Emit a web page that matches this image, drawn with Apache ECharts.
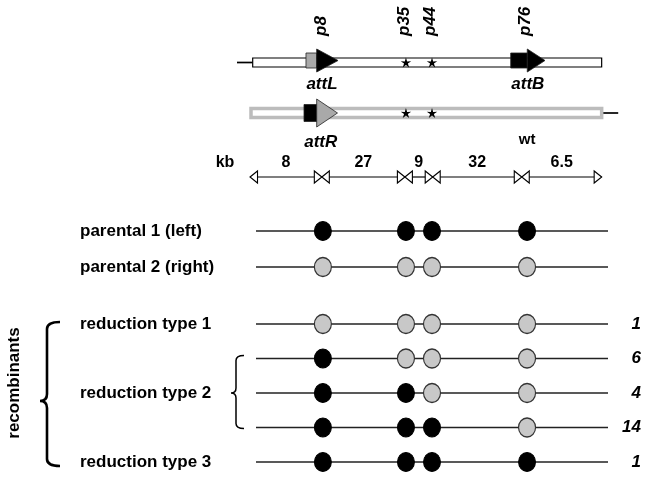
<!DOCTYPE html>
<html><head><meta charset="utf-8">
<script src="https://cdn.jsdelivr.net/npm/echarts@6/dist/echarts.min.js"></script>
<style>html,body{margin:0;padding:0;background:#fff}#c{width:647px;height:498px}</style>
</head><body><div id="c"></div>
<script>
// ---------------- data ----------------
// loci on the (schematic) map, in map units 0..100
const lociNames = ['p8', 'p35', 'p44', 'p76'];
const lociPos = [19.0, 42.6, 50.0, 77.0];

// kb distances between loci (scale bar)
const kbLabels = ['8', '27', '9', '32', '6.5'];
const kbBounds = [-1.7, 18.7, 42.3, 50.2, 75.5, 98.2];

// chromosome tracks (top panel)
const chromStart = [-0.94, -1.42];
const chromEnd = [98.2, 98.2];
const stubStart = [-5.4, 98.2];
const stubEnd = [-0.94, 102.9];
const chromNote = ['', 'wt'];

// att sites
const attNames = ['attL', 'attB', 'attR'];
const attTrack = [0, 0, 1];
const attShaftStart = [14.2, 72.36, 13.64];
const attShaftEnd = [17.24, 77.07, 17.24];
const attHeadEnd = [23.3, 82.1, 23.15];
const attShaftFill = ['#a9a9a9', '#000', '#000'];
const attHeadFill = ['#000', '#000', '#a9a9a9'];

// mutation marks (stars) at p35 / p44 on both tracks
const starLocus = [1, 2, 1, 2];
const starTrack = [0, 0, 1, 1];

// genotype rows
const parentalRows = ['parental 1 (left)', 'parental 2 (right)'];
const parentalGeno = [['L', 'L', 'L', 'L'], ['R', 'R', 'R', 'R']];

const recombRows = ['r1', 'r2a', 'r2b', 'r2c', 'r3'];
const recombLabels = ['reduction type 1', '', 'reduction type 2', '', 'reduction type 3'];
const recombGeno = [
  ['R', 'R', 'R', 'R'],
  ['L', 'R', 'R', 'R'],
  ['L', 'L', 'R', 'R'],
  ['L', 'L', 'L', 'R'],
  ['L', 'L', 'L', 'L']
];
const recombCounts = [1, 6, 4, 14, 1];

// ---------------- layout ----------------
const FONT = '"Liberation Sans", Arial, Helvetica, sans-serif';
const trackY = [62.5, 113];
const kbY = 177;
const MAP_MIN = 0, MAP_MAX = 100;

const chart = echarts.init(document.getElementById('c'));

function genoPoints(rows, geno, allele) {
  const out = [];
  rows.forEach((r, i) => geno[i].forEach((g, j) => { if (g === allele) out.push([lociPos[j], r]); }));
  return out;
}

const axisLabelBase = { color: '#000', fontFamily: FONT, fontWeight: 'bold', fontSize: 17, interval: 0 };
const hiddenCat = { axisLine: { show: false }, axisTick: { show: false }, splitLine: { show: false } };

function rowLineSeries(xi, yi, rows) {
  return {
    type: 'custom', xAxisIndex: xi, yAxisIndex: yi, silent: true, clip: false, z: 1,
    data: rows.map((r, i) => [i]),
    renderItem: (p, api) => {
      const i = api.value(0);
      const a = api.coord([MAP_MIN, i]), b = api.coord([MAP_MAX, i]);
      return { type: 'line', shape: { x1: a[0], y1: a[1], x2: b[0], y2: b[1] }, style: { stroke: '#222', lineWidth: 1.6 } };
    }
  };
}

function bracePath(xv, yT, yM, yB, w, d, r) {
  return `M ${xv + w} ${yT} Q ${xv} ${yT} ${xv} ${yT + r} L ${xv} ${yM - r} Q ${xv} ${yM} ${xv - d} ${yM} ` +
         `Q ${xv} ${yM} ${xv} ${yM + r} L ${xv} ${yB - r} Q ${xv} ${yB} ${xv + w} ${yB}`;
}

const series = [];

// chromosomes
series.push({
  type: 'custom', xAxisIndex: 0, yAxisIndex: 0, silent: true, clip: false, z: 2,
  data: chromStart.map((s, i) => [s, chromEnd[i], i]),
  renderItem: (p, api) => {
    const i = api.value(2);
    const y = trackY[i];
    const a = api.coord([api.value(0), y]), b = api.coord([api.value(1), y]);
    const s0 = api.coord([stubStart[i], y]), s1 = api.coord([stubEnd[i], y]);
    const h = 9;
    const children = [
      { type: 'line', shape: { x1: s0[0], y1: a[1], x2: s1[0], y2: a[1] }, style: { stroke: '#000', lineWidth: 1.7 } },
      { type: 'rect', shape: { x: a[0], y: a[1] - h / 2, width: b[0] - a[0], height: h },
        style: i === 0 ? { fill: '#fff', stroke: '#000', lineWidth: 1.2 } : { fill: '#fff', stroke: '#bcbcbc', lineWidth: 3.5 } }
    ];
    if (chromNote[i]) {
      const q = api.coord([lociPos[3], y]);
      children.push({ type: 'text', x: q[0], y: q[1] + 27, style: { text: chromNote[i], font: `bold 15px ${FONT}`, fill: '#000', align: 'center', verticalAlign: 'middle' } });
    }
    return { type: 'group', children };
  }
});

// att arrows
series.push({
  type: 'custom', xAxisIndex: 0, yAxisIndex: 0, silent: true, clip: false, z: 3,
  data: attNames.map((n, i) => [attShaftStart[i], attShaftEnd[i], attHeadEnd[i], i]),
  renderItem: (p, api) => {
    const i = api.value(3);
    const t = attTrack[i];
    const y = trackY[t];
    const sh = t === 0 ? 7.5 : 8.5;
    const hh = t === 0 ? 11.5 : 14;
    const a = api.coord([api.value(0), y]), b = api.coord([api.value(1), y]), c = api.coord([api.value(2), y]);
    const yy = a[1] - (t === 0 ? 2 : 0);
    return {
      type: 'group', children: [
        { type: 'rect', shape: { x: a[0], y: yy - sh, width: b[0] - a[0], height: 2 * sh }, style: { fill: attShaftFill[i], stroke: '#222', lineWidth: 0.8 } },
        { type: 'polygon', shape: { points: [[b[0], yy - hh], [c[0], yy], [b[0], yy + hh]] }, style: { fill: attHeadFill[i], stroke: '#222', lineWidth: 0.8 } },
        { type: 'text', x: (a[0] + c[0]) / 2, y: a[1] + (t === 0 ? 22 : 29),
          style: { text: attNames[i], font: `italic bold 17px ${FONT}`, fill: '#000', align: 'center', verticalAlign: 'middle' } }
      ]
    };
  }
});

// stars
series.push({
  type: 'custom', xAxisIndex: 0, yAxisIndex: 0, silent: true, clip: false, z: 4,
  data: starLocus.map((l, i) => [lociPos[l], i]),
  renderItem: (p, api) => {
    const i = api.value(1);
    const c = api.coord([api.value(0), trackY[starTrack[i]]]);
    const pts = [];
    for (let k = 0; k < 10; k++) {
      const ang = -Math.PI / 2 + k * Math.PI / 5;
      const r = k % 2 === 0 ? 5.5 : 2;
      pts.push([c[0] + r * Math.cos(ang), c[1] + 0.5 + r * Math.sin(ang)]);
    }
    return { type: 'polygon', shape: { points: pts }, style: { fill: '#000' } };
  }
});

// locus labels (rotated)
series.push({
  type: 'custom', xAxisIndex: 0, yAxisIndex: 0, silent: true, clip: false, z: 4,
  data: lociPos.map((x, i) => [x, i]),
  renderItem: (p, api) => {
    const i = api.value(1);
    const c = api.coord([api.value(0), 36]);
    return { type: 'text', x: c[0] - 2, y: c[1], rotation: Math.PI / 2,
      style: { text: lociNames[i], font: `italic bold 17px ${FONT}`, fill: '#000', align: 'left', verticalAlign: 'middle' } };
  }
});

// kb scale
series.push({
  type: 'custom', xAxisIndex: 0, yAxisIndex: 0, silent: true, clip: false, z: 4,
  data: kbLabels.map((l, i) => [kbBounds[i], kbBounds[i + 1], i]),
  renderItem: (p, api) => {
    const i = api.value(2);
    const a = api.coord([api.value(0), kbY]), b = api.coord([api.value(1), kbY]);
    const y = a[1], L = 7.5, H = 6;
    const children = [
      { type: 'line', shape: { x1: a[0], y1: y, x2: b[0], y2: y }, style: { stroke: '#000', lineWidth: 1.2 } },
      { type: 'polygon', shape: { points: [[a[0], y], [a[0] + L, y - H], [a[0] + L, y + H]] }, style: { fill: '#fff', stroke: '#000', lineWidth: 1.1 } },
      { type: 'polygon', shape: { points: [[b[0], y], [b[0] - L, y - H], [b[0] - L, y + H]] }, style: { fill: '#fff', stroke: '#000', lineWidth: 1.1 } },
      { type: 'text', x: (a[0] + b[0]) / 2, y: y - 14, style: { text: kbLabels[i], font: `bold 16px ${FONT}`, fill: '#000', align: 'center', verticalAlign: 'middle' } }
    ];
    if (i === 0) children.push({ type: 'text', x: a[0] - 25, y: y - 14, style: { text: 'kb', font: `bold 16px ${FONT}`, fill: '#000', align: 'center', verticalAlign: 'middle' } });
    return { type: 'group', children };
  }
});

// genotype rows
series.push(rowLineSeries(1, 1, parentalRows));
series.push(rowLineSeries(2, 2, recombRows));
const lStyle = { color: '#000', borderColor: '#000', borderWidth: 1, opacity: 1 };
const rStyle = { color: '#c8c8c8', borderColor: '#333', borderWidth: 1.2, opacity: 1 };
[[1, 1, parentalRows, parentalGeno], [2, 2, recombRows, recombGeno]].forEach(([xi, yi, rows, geno]) => {
  series.push({ type: 'scatter', xAxisIndex: xi, yAxisIndex: yi, symbol: 'circle', symbolSize: [17, 19], itemStyle: lStyle, z: 5, silent: true,
    data: genoPoints(rows, geno, 'L') });
  series.push({ type: 'scatter', xAxisIndex: xi, yAxisIndex: yi, symbol: 'circle', symbolSize: [17, 19], itemStyle: rStyle, z: 5, silent: true,
    data: genoPoints(rows, geno, 'R') });
});

// braces: [first row, last row, type]
const braceRows = [[0, 4, 0], [1, 3, 1]];
series.push({
  type: 'custom', xAxisIndex: 2, yAxisIndex: 2, silent: true, clip: false, z: 5,
  data: braceRows,
  renderItem: (p, api) => {
    const r0 = api.value(0), r1 = api.value(1), kind = api.value(2);
    const top = api.coord([MAP_MIN, r0]), bot = api.coord([MAP_MIN, r1]);
    if (kind === 0) {
      const xv = top[0] - 209;
      const yT = top[1] - 2, yB = bot[1] + 4, yM = (yT + yB) / 2 + 7;
      return { type: 'group', children: [
        { type: 'path', shape: { pathData: bracePath(xv, yT, yM, yB, 13, 7, 7) }, style: { fill: null, stroke: '#000', lineWidth: 2.6 } },
        { type: 'text', x: xv - 33, y: (yT + yB) / 2 - 11, rotation: Math.PI / 2,
          style: { text: 'recombinants', font: `bold 17px ${FONT}`, fill: '#000', align: 'center', verticalAlign: 'middle' } }
      ] };
    }
    const xv = top[0] - 20;
    const yT = top[1] - 3, yB = bot[1] + 1, yM = (top[1] + bot[1]) / 2;
    return { type: 'path', shape: { pathData: bracePath(xv, yT, yM, yB, 8, 5, 5) }, style: { fill: null, stroke: '#000', lineWidth: 1.5 } };
  }
});

const option = {
  animation: false,
  backgroundColor: '#fff',
  grid: [
    { left: 256, width: 352, top: 0, height: 200, containLabel: false, outerBoundsMode: 'none' },
    { left: 256, width: 352, top: 213, height: 72, containLabel: false, outerBoundsMode: 'none' },
    { left: 256, width: 352, top: 306.75, height: 172.5, containLabel: false, outerBoundsMode: 'none' }
  ],
  xAxis: [0, 1, 2].map(i => ({ gridIndex: i, type: 'value', min: MAP_MIN, max: MAP_MAX, show: false })),
  yAxis: [
    { gridIndex: 0, type: 'value', min: 0, max: 200, inverse: true, show: false },
    Object.assign({ gridIndex: 1, type: 'category', data: parentalRows, inverse: true,
      axisLabel: Object.assign({}, axisLabelBase, { align: 'left', margin: 176 }) }, hiddenCat),
    Object.assign({ gridIndex: 2, type: 'category', data: recombRows, inverse: true,
      axisLabel: Object.assign({}, axisLabelBase, { align: 'left', margin: 176, formatter: (v, i) => recombLabels[recombRows.indexOf(v)] }) }, hiddenCat),
    Object.assign({ gridIndex: 2, type: 'category', data: recombRows, inverse: true, position: 'right',
      axisLabel: Object.assign({}, axisLabelBase, { align: 'right', margin: 33, fontStyle: 'italic', formatter: (v) => String(recombCounts[recombRows.indexOf(v)]) }) }, hiddenCat)
  ],
  series
};
chart.setOption(option);
</script></body></html>
